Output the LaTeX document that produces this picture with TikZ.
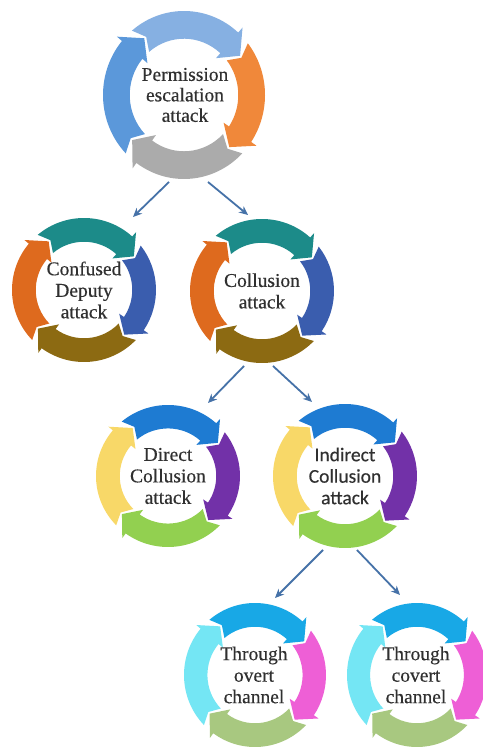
\documentclass[tikz,border=0pt]{standalone}
\usepackage{fontspec}
\setmainfont{Liberation Serif}[FakeBold=0.35]
\newfontfamily\calibfont{Carlito}[FakeBold=0.35]
\usetikzlibrary{arrows.meta,calc}
\definecolor{txtc}{HTML}{303030}
\definecolor{conncol}{HTML}{4672A8}
% Permission
\definecolor{pTop}{HTML}{86B0E2}
\definecolor{pRight}{HTML}{F0883A}
\definecolor{pBot}{HTML}{ABABAB}
\definecolor{pLeft}{HTML}{5B98DA}
% Confused / Collusion
\definecolor{cTop}{HTML}{1C8B89}
\definecolor{cRight}{HTML}{3A5DAE}
\definecolor{cBot}{HTML}{8C6A12}
\definecolor{cLeft}{HTML}{DE6A1E}
% Direct / Indirect
\definecolor{dTop}{HTML}{1E7BD2}
\definecolor{dRight}{HTML}{7231A8}
\definecolor{dBot}{HTML}{92D050}
\definecolor{dLeft}{HTML}{F8D868}
% Through
\definecolor{tTop}{HTML}{18A8E6}
\definecolor{tRight}{HTML}{EE5FD6}
\definecolor{tBot}{HTML}{A8C880}
\definecolor{tLeft}{HTML}{74E6F4}

% #1 tail angle, #2 tip angle, #3 colour (clockwise arrow on a unit ring)
\newcommand\ringarrow[3]{%
  \fill[#3] (#1:1) arc[start angle=#1, end angle={#2+14}, radius=1]
    -- ({#2+14}:1.08) -- (#2:0.835) -- ({#2+14}:0.59) -- ({#2+14}:0.67)
    arc[start angle={#2+14}, end angle=#1, radius=0.67]
    -- ({#1-6}:0.835) -- cycle;}
\newcommand\cyclering[8]{%
  \begin{scope}[shift={(#1,#2)}, xscale=#3, yscale=#4]
    \ringarrow{224}{126}{#8}
    \ringarrow{-44}{-140}{#7}
    \ringarrow{38}{-48}{#6}
    \ringarrow{130}{34}{#5}
  \end{scope}}

\begin{document}
\begin{tikzpicture}[x=1pt,y=1pt,
  lbl/.style={align=center, text=txtc, inner sep=0pt,
    font=\fontsize{19.5}{21.5}\selectfont},
  conn/.style={draw=conncol, line width=1.8pt, -{Stealth[length=9pt,width=8pt]}}]
\useasboundingbox (0,0) rectangle (482,749);
\fill[white] (0,0) rectangle (482,749);

\cyclering{184}{654}{81}{84}{pTop}{pRight}{pBot}{pLeft}
\cyclering{84}{459}{72}{72}{cTop}{cRight}{cBot}{cLeft}
\cyclering{262}{458}{72}{72}{cTop}{cRight}{cBot}{cLeft}
\cyclering{168}{273}{72}{71}{dTop}{dRight}{dBot}{dLeft}
\cyclering{345}{273}{72}{72}{dTop}{dRight}{dBot}{dLeft}
\cyclering{255}{74}{71}{72}{tTop}{tRight}{tBot}{tLeft}
\cyclering{417}{74}{70}{72}{tTop}{tRight}{tBot}{tLeft}

\node[lbl, font=\fontsize{19.5}{20.5}\selectfont] (perm) at (185,654) {Permission\\escalation\\attack};
\node[lbl] (conf) at (84,459) {Confused\\Deputy\\attack};
\node[lbl] (coll) at (262,458) {Collusion\\attack};
\node[lbl] (direct) at (168,273) {Direct\\Collusion\\attack};
\node[lbl, font=\calibfont\fontsize{19.5}{21.5}\selectfont] (indirect) at (345,273) {Indirect\\Collusion\\attack};
\node[lbl] (overt) at (254,74) {Through\\overt\\channel};
\node[lbl] (covert) at (416,74) {Through\\covert\\channel};

\coordinate (c1s) at ($(perm.center)+(-16,-87)$);
\coordinate (c1e) at ($(conf.center)+(49,73)$);
\coordinate (c2s) at ($(perm.center)+(23,-87)$);
\coordinate (c2e) at ($(coll.center)+(-14,76)$);
\coordinate (c3s) at ($(coll.center)+(-18,-75)$);
\coordinate (c3e) at ($(direct.center)+(40,73)$);
\coordinate (c4s) at ($(coll.center)+(11,-75)$);
\coordinate (c4e) at ($(indirect.center)+(-33,74)$);
\coordinate (c5s) at ($(indirect.center)+(-22,-74)$);
\coordinate (c5e) at ($(overt.center)+(21,77)$);
\coordinate (c6s) at ($(indirect.center)+(12,-74)$);
\coordinate (c6e) at ($(covert.center)+(-16,80)$);

\draw[conn] (c1s) -- (c1e);
\draw[conn] (c2s) -- (c2e);
\draw[conn] (c3s) -- (c3e);
\draw[conn] (c4s) -- (c4e);
\draw[conn] (c5s) -- (c5e);
\draw[conn] (c6s) -- (c6e);
\end{tikzpicture}
\end{document}
